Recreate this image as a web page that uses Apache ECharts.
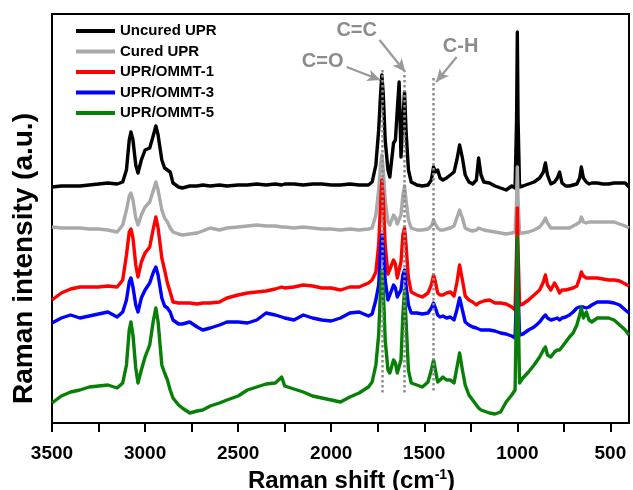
<!DOCTYPE html>
<html>
<head>
<meta charset="utf-8">
<script src="https://cdn.jsdelivr.net/npm/echarts@6/dist/echarts.min.js"></script>
<style>html,body{margin:0;padding:0;background:#fff}#c{width:633px;height:490px}</style>
</head>
<body>
<div id="c"></div>
<script>
// Raman shift (cm-1), shared grid for all spectra
const shift = [
3500,3450,3400,3350,3300,3250,3200,3150,3120,3100,
3085,3076,3065,3050,3038,3020,3000,2975,2955,2942,
2930,2910,2895,2880,2865,2850,2820,2800,2760,2720,
2690,2650,2600,2560,2500,2450,2400,2350,2300,2266,
2250,2200,2150,2100,2050,2000,1950,1900,1850,1800,
1780,1760,1745,1735,1728,1720,1710,1695,1685,1665,
1655,1645,1635,1625,1615,1606,1598,1585,1570,1540,
1510,1480,1462,1450,1440,1428,1415,1400,1380,1360,
1340,1325,1310,1295,1280,1260,1240,1220,1208,1195,
1180,1150,1120,1090,1060,1030,1012,1004,1000,996,
988,970,940,910,880,860,849,838,820,800,
785,773,760,740,720,700,680,665,656,645,
629,615,600,570,540,510,480,450,420,400];

const uncuredUPR = [
236,237,237,237,238,239,240,239,241,253,
283,291,283,258,250,263,273,275,288,297,
288,263,255,253,251,240,236,235,237,237,
238,237,238,237,238,238,239,238,239,238,
239,239,238,239,239,238,238,239,238,238,
241,258,293,328,348,328,283,253,246,280,
283,313,341,266,303,331,293,253,241,238,
237,238,243,256,251,253,245,243,245,248,
251,263,278,265,248,241,239,243,265,248,
241,240,237,235,233,237,235,303,391,303,
236,237,239,241,245,251,260,248,239,241,
245,251,240,237,237,238,239,245,256,245,
241,239,240,240,239,239,240,240,240,236];

const curedUPR = [
196,195,195,195,194,194,193,191,198,213,
227,230,223,205,198,208,216,221,233,241,
233,213,205,201,195,191,189,188,189,190,
192,195,193,195,196,197,198,197,197,196,
196,195,196,195,194,194,193,194,193,194,
195,208,233,258,268,253,223,201,198,208,
205,199,199,208,228,237,223,203,195,193,
193,194,197,203,199,195,193,193,194,195,
197,205,213,205,195,193,192,193,195,194,
193,192,191,190,189,190,191,223,256,223,
190,190,191,193,196,201,205,200,195,195,
195,195,195,195,195,197,199,201,206,201,
200,201,201,201,201,201,201,199,197,195];

const ommt1 = [
123,130,134,136,136,136,137,136,143,168,
191,194,185,158,146,161,170,176,195,206,
195,165,153,140,131,121,120,120,120,119,
120,120,121,125,128,130,131,132,134,136,
135,136,138,137,135,135,133,136,136,140,
143,151,178,218,243,223,178,149,148,163,
159,145,143,161,188,195,178,145,131,128,
126,130,138,148,141,130,128,128,130,131,
127,140,158,143,127,123,121,118,120,121,
122,123,120,120,119,116,113,173,215,173,
118,119,123,128,133,141,148,138,133,140,
135,130,133,133,134,135,137,145,151,147,
145,145,145,145,144,143,143,142,139,137];

const ommt3 = [
100,105,108,105,107,109,111,106,111,123,
141,145,136,118,111,125,133,140,151,156,
148,125,117,115,111,103,99,99,101,96,
93,95,98,101,101,100,103,110,108,106,
105,103,108,105,103,102,105,110,111,107,
109,123,138,173,188,173,143,123,121,138,
135,126,126,133,148,153,138,118,110,110,
109,110,115,120,115,108,106,107,105,106,
103,113,125,113,101,98,96,95,94,93,
93,93,92,90,89,87,85,133,183,133,
88,89,93,96,101,106,108,105,103,104,
105,103,105,106,108,111,115,116,116,116,
115,116,118,121,121,121,120,118,113,110];

const ommt5 = [
20,27,31,33,36,37,38,35,40,58,
93,101,88,55,40,53,66,78,103,115,
101,58,50,43,33,25,18,15,10,12,
13,17,20,23,27,33,36,39,40,46,
37,34,31,27,25,23,21,26,30,36,
41,58,88,133,153,133,83,53,50,63,
60,50,50,63,108,133,103,53,40,38,
36,41,53,63,53,41,43,46,43,43,
40,55,70,53,38,28,23,18,15,13,
12,10,9,11,21,28,33,123,186,123,
40,45,51,58,66,73,76,68,66,71,
73,73,76,81,86,90,98,108,115,105,
111,103,101,105,105,105,103,98,93,88];

const seriesNames = ['Uncured UPR','Cured UPR','UPR/OMMT-1','UPR/OMMT-3','UPR/OMMT-5'];
const seriesValues = [uncuredUPR, curedUPR, ommt1, ommt3, ommt5];
const seriesColors = ['#000000','#a9a9a9','#ff0000','#0000ff','#088008'];

const tickValues = [3500,3250,3000,2750,2500,2250,2000,1750,1500,1250,1000,750,500];
const labelValues = [3500,3000,2500,2000,1500,1000,500];

// annotations (data units): band positions, label anchors, arrows
const bands = [ {x:1728, top:353}, {x:1606, top:348}, {x:1450, top:345} ];
const bandBottom = 30;
const bandLabels = [ {text:'C=O', x:2046, y:362}, {text:'C=C', x:1863, y:393}, {text:'C-H', x:1305, y:377} ];
const arrows = [ [[1917,356],[1736,343]], [[1740,383],[1602,351]], [[1326,366],[1436,341]] ];

const FONT = 'Liberation Sans, Arial, sans-serif';
const annoColor = '#8c8c8c';

const chart = echarts.init(document.getElementById('c'), null, {renderer:'canvas'});

const markLineData = [];
bands.forEach(b => markLineData.push([
  {coord:[b.x, b.top], symbol:'none', lineStyle:{type:[2.5,2.5], width:2.5, color:'#8c8c8c'}},
  {coord:[b.x, bandBottom], symbol:'none'}
]));
arrows.forEach(a => markLineData.push([
  {coord:a[0], symbol:'none', lineStyle:{type:'solid', width:2.2, color:'#999999'}},
  {coord:a[1], symbol:'arrow', symbolSize:[9,13]}
]));

const series = seriesNames.map((n,i) => ({
  name: n,
  type: 'line',
  symbol: 'none',
  data: shift.map((x,k) => [x, seriesValues[i][k]]),
  lineStyle: {width: 3.4, color: seriesColors[i], join:'round'},
  itemStyle: {color: seriesColors[i]},
  z: 2 + i
}));
series[4].markLine = {
  silent: true, animation: false, symbol: ['none','none'],
  label: {show:false}, z: 20,
  data: markLineData
};
series[4].markPoint = {
  silent: true, animation: false, symbol: 'circle', symbolSize: 1,
  itemStyle: {color:'rgba(0,0,0,0)'},
  label: {show:true, position:'inside', formatter: p => p.name,
          color: annoColor, fontSize: 20, fontWeight:'bold', fontFamily: FONT},
  data: bandLabels.map(l => ({name:l.text, coord:[l.x, l.y]}))
};

chart.setOption({
  animation: false,
  backgroundColor: '#ffffff',
  grid: {left:52, right:4, top:14, bottom:67, show:true, borderColor:'#000', borderWidth:2, backgroundColor:'transparent',
         containLabel:false, outerBoundsMode:'none'},
  legend: {
    orient:'vertical', left:71, top:18.5, itemWidth:39, itemHeight:4, itemGap:5.5,
    icon: 'rect',
    data: seriesNames,
    textStyle: {fontSize:15, fontWeight:'bold', color:'#000', fontFamily: FONT}
  },
  xAxis: {
    type:'value', inverse:true, min:400, max:3500,
    name: 'Raman shift (cm{sup|-1})',
    nameLocation:'middle', nameGap:45,
    nameTextStyle: {fontSize:24, fontWeight:'bold', color:'#000', fontFamily: FONT, padding:[0,0,0,22],
      rich: {sup: {fontSize:14, fontWeight:'bold', color:'#000', fontFamily: FONT, verticalAlign:'top', padding:[0,0,12,0]}}},
    axisLine: {show:true, onZero:false, lineStyle:{color:'#000', width:2}},
    axisTick: {show:true, length:9, lineStyle:{color:'#000', width:2}, customValues: tickValues},
    axisLabel: {show:true, customValues: labelValues, margin:21, fontSize:19, fontWeight:'bold', color:'#000', fontFamily: FONT,
      formatter: v => String(v)},
    splitLine: {show:false}
  },
  yAxis: {
    type:'value', min:0, max:409,
    name: 'Raman intensity (a.u.)', nameLocation:'middle', nameGap:14, nameRotate:90,
    nameTextStyle: {fontSize:28, fontWeight:'bold', color:'#000', fontFamily: FONT, padding:[0,80,0,0]},
    axisLine: {show:true, lineStyle:{color:'#000', width:2}},
    axisTick: {show:false}, axisLabel: {show:false}, splitLine: {show:false}
  },
  series: series
});
</script>
</body>
</html>
